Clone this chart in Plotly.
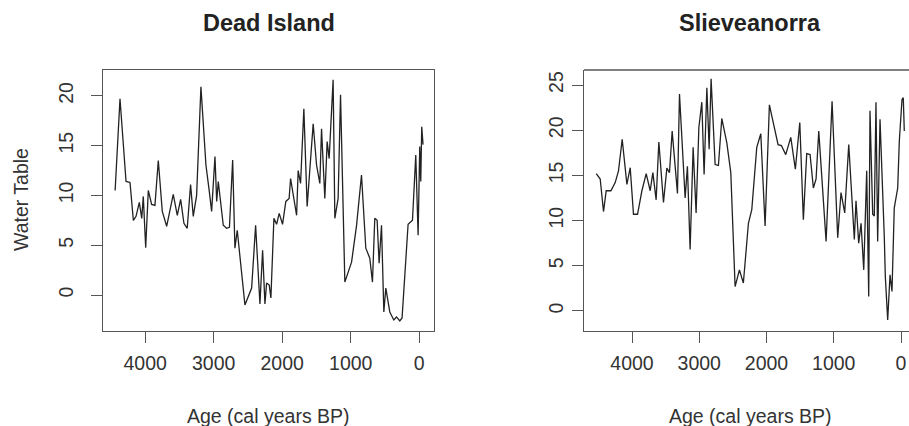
import plotly.graph_objects as go

# ---------------- data ----------------
dead_age = [4438, 4367, 4279, 4221, 4172, 4133, 4085, 4050, 4027, 3992, 3954, 3905, 3857, 3808,
            3750, 3686, 3590, 3531, 3482, 3434, 3386, 3337, 3298, 3249, 3186, 3113, 3064, 3030,
            2981, 2956, 2933, 2860, 2811, 2770, 2723, 2690, 2656, 2544, 2446, 2388, 2325, 2286,
            2252, 2228, 2189, 2165, 2121, 2082, 2044, 1995, 1947, 1899, 1878, 1840, 1790, 1767,
            1732, 1684, 1636, 1548, 1499, 1451, 1426, 1378, 1344, 1315, 1257, 1232, 1184, 1149,
            1086, 988, 915, 843, 780, 722, 683, 649, 615, 586, 551, 517, 488, 430, 372, 332,
            284, 251, 163, 99, 51, 17, -7, -22, -36, -55]
dead_wt = [10.5, 19.7, 11.4, 11.3, 7.5, 7.9, 9.3, 7.7, 9.9, 4.75, 10.5, 9.1, 9.0, 13.5,
           8.4, 6.9, 10.1, 8.0, 9.6, 7.2, 6.7, 11.1, 7.9, 10.0, 20.9, 13.05, 10.4, 8.4,
           13.9, 9.4, 11.4, 7.0, 6.7, 6.8, 13.55, 4.7, 6.5, -1.0, 0.7, 7.0, -0.9, 4.5,
           -0.9, 1.2, 1.0, -0.3, 7.7, 7.1, 8.2, 7.1, 9.4, 9.7, 11.7, 10.2, 8.0, 12.5,
           11.2, 18.7, 8.9, 17.2, 13.05, 11.2, 16.7, 9.7, 15.4, 13.7, 21.6, 7.7, 9.7, 20.1,
           1.3, 3.3, 7.0, 12.05, 4.7, 3.7, 1.3, 7.7, 7.5, 3.2, 7.0, -1.7, 0.7, -1.7, -2.5, -2.2,
           -2.6, -2.3, 7.1, 7.5, 14.05, 6.0, 14.9, 11.4, 16.9, 15.1]

slieve_age = [4532, 4473, 4424, 4384, 4314, 4250, 4201, 4146, 4076, 4027, 3978, 3918, 3853, 3789,
              3730, 3690, 3641, 3601, 3532, 3482, 3443, 3403, 3324, 3294, 3210, 3176, 3136, 3091,
              3047, 3006, 2962, 2928, 2887, 2853, 2824, 2764, 2715, 2665, 2590, 2531, 2467, 2403,
              2344, 2269, 2219, 2145, 2085, 2021, 1957, 1902, 1828, 1779, 1714, 1639, 1571, 1505,
              1452, 1402, 1352, 1303, 1263, 1223, 1114, 1025, 941, 892, 837, 777, 694, 669,
              629, 594, 554, 510, 480, 461, 421, 397, 372, 347, 312, 248, 233, 198,
              163, 134, 100, 49, 25, -15, -34, -49]
slieve_wt = [15.2, 14.6, 11.0, 13.3, 13.3, 14.2, 15.5, 19.0, 14.0, 15.85, 10.7, 10.7, 13.3, 15.2,
             13.3, 15.3, 12.3, 18.7, 12.0, 15.8, 15.3, 19.9, 13.0, 24.0, 12.5, 16.0, 6.8, 18.1,
             10.85, 20.3, 23.1, 15.1, 24.7, 17.9, 25.7, 16.2, 16.1, 21.3, 18.6, 15.3, 2.7, 4.55,
             3.1, 9.7, 11.2, 18.1, 19.6, 9.4, 22.8, 21.0, 18.4, 18.3, 17.3, 19.2, 15.7, 20.85,
             10.1, 17.4, 17.3, 13.6, 14.6, 19.9, 7.7, 23.2, 8.1, 13.1, 10.85, 18.4, 7.9, 12.2,
             7.5, 9.7, 4.55, 15.5, 1.6, 22.15, 10.7, 10.5, 23.1, 7.7, 21.2, 8.1, 3.8, -1.0,
             4.0, 2.15, 11.4, 13.6, 18.8, 23.4, 23.6, 19.9]

panel_titles = ["Dead Island", "Slieveanorra"]
x_title = "Age (cal years BP)"
y_title = "Water Table"
x_ticks = [4000, 3000, 2000, 1000, 0]
y_ticks_left = [0, 5, 10, 15, 20]
y_ticks_right = [0, 5, 10, 15, 20, 25]

# ---------------- layout geometry ----------------
W, H = 909, 426
FONT = "Liberation Sans, Arial, Helvetica, sans-serif"
TXT = "#333333"
AX = "#555555"

def px_x(p):
    return p / W

def px_y(p):
    return 1 - p / H

top_px, bot_px = 70, 330.5
ydom = [px_y(bot_px), px_y(top_px)]
xdom1 = [px_x(103), px_x(434)]
xdom2 = [px_x(584), 1.0]

fig = go.Figure()
fig.add_trace(go.Scatter(x=dead_age, y=dead_wt, mode="lines",
                         line=dict(color="#222222", width=1.3),
                         xaxis="x", yaxis="y", showlegend=False))
fig.add_trace(go.Scatter(x=slieve_age, y=slieve_wt, mode="lines",
                         line=dict(color="#222222", width=1.3),
                         xaxis="x2", yaxis="y2", showlegend=False))

tickfont = dict(family=FONT, size=19.5, color=TXT)
common_axis = dict(showgrid=False, zeroline=False, ticks="outside", ticklen=11,
                   tickwidth=1.2, tickcolor=AX, showline=True, linecolor=AX,
                   linewidth=1.3, tickfont=tickfont)

fig.update_layout(
    width=W, height=H,
    margin=dict(l=0, r=0, t=0, b=0),
    paper_bgcolor="white", plot_bgcolor="white",
    xaxis=dict(domain=xdom1, range=[4615, -215], tickvals=x_ticks, anchor="y",
               mirror=True, ticklabelstandoff=4, **common_axis),
    yaxis=dict(domain=ydom, range=[-3.56, 22.59], tickvals=y_ticks_left, anchor="x",
               mirror=True, tickangle=-90, ticklabelstandoff=10, **common_axis),
    xaxis2=dict(domain=xdom2, range=[4714, -119], tickvals=x_ticks, anchor="y2",
                mirror=False, ticklabelstandoff=4, **common_axis),
    yaxis2=dict(domain=ydom, range=[-2.16, 26.66], tickvals=y_ticks_right, anchor="x2",
                mirror=False, tickangle=-90, ticklabelstandoff=1, **common_axis),
)

# top border for the right panel (its right edge falls outside the picture)
fig.add_shape(type="line", xref="paper", yref="paper",
              x0=xdom2[0], x1=1.0, y0=ydom[1], y1=ydom[1],
              line=dict(color=AX, width=1.3))

# titles and axis titles as annotations
centers = [(103 + 434) / 2, 750]
for cx, t in zip(centers, panel_titles):
    fig.add_annotation(x=px_x(cx), y=px_y(23), xref="paper", yref="paper",
                       text="<b>" + t + "</b>", showarrow=False,
                       xanchor="center", yanchor="middle",
                       font=dict(family=FONT, size=23.5, color="#222222"))
    fig.add_annotation(x=px_x(cx), y=px_y(416), xref="paper", yref="paper",
                       text=x_title, showarrow=False,
                       xanchor="center", yanchor="middle",
                       font=dict(family=FONT, size=19.5, color=TXT))

fig.add_annotation(x=px_x(21), y=px_y(200), xref="paper", yref="paper",
                   text=y_title, showarrow=False, textangle=-90,
                   xanchor="center", yanchor="middle",
                   font=dict(family=FONT, size=19.5, color=TXT))

fig.write_html("out.html")
